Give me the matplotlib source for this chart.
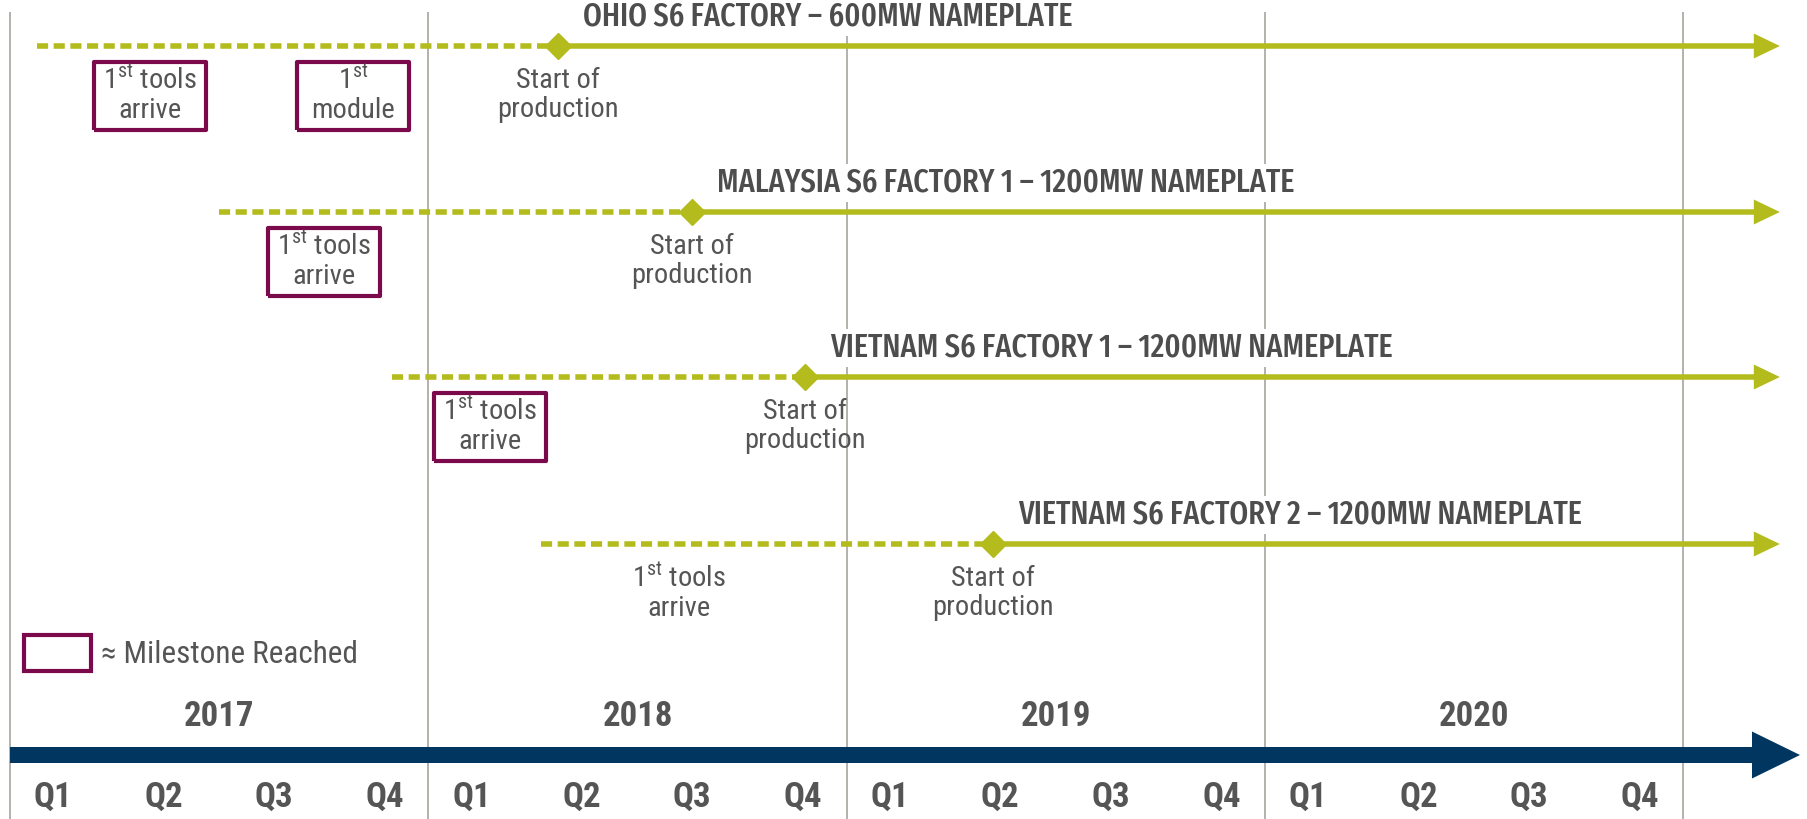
import matplotlib
matplotlib.use('Agg')
import matplotlib.pyplot as plt
from matplotlib.patches import Patch

BODY = ['Roboto Condensed', 'DejaVu Sans']
TITLE = ['Fira Sans Extra Condensed', 'Roboto Condensed', 'DejaVu Sans']
plt.rcParams['font.family'] = BODY
plt.rcParams['mathtext.fontset'] = 'custom'
plt.rcParams['mathtext.rm'] = 'Roboto Condensed'

# data
factories = ['OHIO S6 FACTORY – 600MW NAMEPLATE',
             'MALAYSIA S6 FACTORY 1 – 1200MW NAMEPLATE',
             'VIETNAM S6 FACTORY 1 – 1200MW NAMEPLATE',
             'VIETNAM S6 FACTORY 2 – 1200MW NAMEPLATE']
plan_start = [2017.065, 2017.50, 2017.913, 2018.27]
production_start = [2018.31, 2018.63, 2018.90, 2019.35]
timeline_end = 2021.231

ms_factory = [0, 0, 1, 2, 3]
ms_date = [2017.335, 2017.82, 2017.75, 2018.147, 2018.60]
ms_label = ['1$^{\\mathrm{st}}$ tools\narrive', '1$^{\\mathrm{st}}$\nmodule',
            '1$^{\\mathrm{st}}$ tools\narrive', '1$^{\\mathrm{st}}$ tools\narrive',
            '1$^{\\mathrm{st}}$ tools\narrive']
ms_reached = [True, True, True, True, False]

years = [2017, 2018, 2019, 2020]
quarters = ['Q1', 'Q2', 'Q3', 'Q4']
q_offset = [0.103, 0.367, 0.631, 0.896]

# layout (y in pixels from top)
W, H = 1808, 819
YEAR_PX = 418.3
X0 = 10
row_y = [46, 212, 377, 544]
axis_y = 755

green = '#b3bc1c'
maroon = '#7a0a4b'
navy = '#003660'
grey = '#555555'
vline = '#a8a39d'

# rectangular marker used for the "milestone reached" boxes
box_marker = [(-1, -0.6), (1, -0.6), (1, 0.6), (-1, 0.6), (-1, -0.6)]

fig = plt.figure(figsize=(W / 100, H / 100), dpi=100)
ax = fig.add_axes([0, 0, 1, 1])
ax.set_xlim(2017 - X0 / YEAR_PX, 2017 + (W - X0) / YEAR_PX)
ax.set_ylim(H, 0)
ax.axis('off')

ax.vlines(years + [years[-1] + 1], 12, H, color=vline, lw=1.2, zorder=0)

for i, name in enumerate(factories):
    y = row_y[i]
    ax.plot([plan_start[i], production_start[i]], [y, y], color=green, lw=4,
            ls=(0, (2, 1)), solid_capstyle='butt', zorder=3)
    ax.arrow(production_start[i], y, timeline_end - production_start[i], 0,
             width=5.5, head_width=25, head_length=26 / YEAR_PX,
             length_includes_head=True, color=green, lw=0, zorder=3)
    ax.plot(production_start[i], y, marker='D', ms=13, color=green, zorder=4)
    ax.text(production_start[i] + 25 / YEAR_PX, y - 29, name, fontsize=23.5,
            family=TITLE, fontweight='medium', color='#4d4d4d', ha='left',
            va='center',
            bbox=dict(boxstyle='square,pad=0.1', fc='white', ec='none'), zorder=2)
    ax.text(production_start[i], y + 49, 'Start of\nproduction', fontsize=20.5,
            color=grey, ha='center', va='center', linespacing=1.1, zorder=5)

for f, d, lab, ok in zip(ms_factory, ms_date, ms_label, ms_reached):
    if ok:
        ax.plot(d, row_y[f] + 50, marker=box_marker, ms=81, mfc='white',
                mec=maroon, mew=3, ls='none', zorder=4.5)
    ax.text(d, row_y[f] + 49, lab, fontsize=20.5, color=grey, ha='center',
            va='center', linespacing=1.1, zorder=5)

# time axis
ax.arrow(2017, axis_y, (W - 8 - X0) / YEAR_PX, 0, width=16, head_width=47,
         head_length=48 / YEAR_PX, length_includes_head=True, color=navy,
         lw=0, zorder=3)
for yr in years:
    ax.text(yr + 0.5, 716, str(yr), fontsize=25, fontweight='bold', color=grey,
            ha='center', va='center')
    for q, off in zip(quarters, q_offset):
        ax.text(yr + off, 797, q, fontsize=25, fontweight='bold', color=grey,
                ha='center', va='center')

handle = Patch(fc='white', ec=maroon, lw=3)
ax.legend([handle], ['≈ Milestone Reached'], loc='center left',
          bbox_to_anchor=(24 / W, 1 - 653 / H), frameon=False, fontsize=22.5,
          handlelength=2.15, handleheight=1.35, handletextpad=0.3,
          borderpad=0, borderaxespad=0, labelcolor=grey)

fig.savefig('out.png', dpi=100)
